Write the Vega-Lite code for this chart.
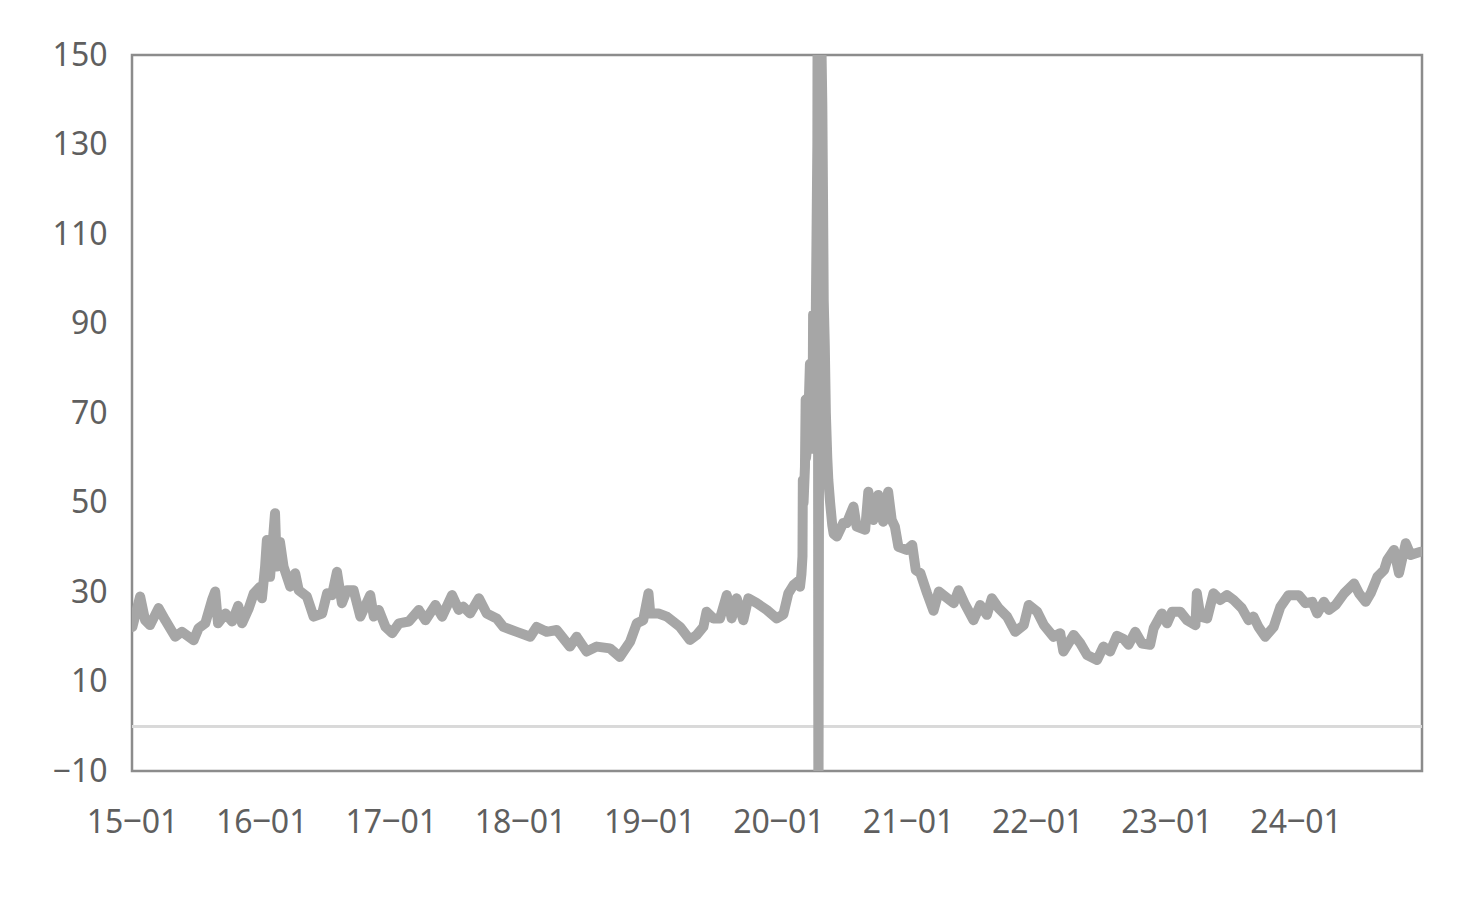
{
  "$schema": "https://vega.github.io/schema/vega-lite/v6.json",
  "width": 1290,
  "height": 716,
  "autosize": {"type": "none"},
  "padding": {"left": 132, "top": 55, "right": 60, "bottom": 127},
  "background": "white",
  "config": {
    "view": {"stroke": "#8c8c8c", "strokeWidth": 2.5},
    "axis": {"labelFont": "Noto Sans", "labelFontSize": 32, "labelColor": "#5f5f5f", "domain": false, "ticks": false, "tickSize": 0, "grid": false, "title": null}
  },
  "data": {"values": [
    {"d":"2015-01-02","v":22.2},{"d":"2015-01-24","v":29.0},{"d":"2015-02-07","v":23.7},{"d":"2015-02-21","v":22.6},{"d":"2015-03-17","v":26.4},{"d":"2015-04-05","v":23.7},{"d":"2015-05-03","v":20.0},{"d":"2015-05-22","v":21.1},{"d":"2015-06-24","v":19.2},{"d":"2015-07-08","v":21.9},{"d":"2015-07-27","v":23.0},{"d":"2015-08-15","v":28.2},{"d":"2015-08-24","v":30.1},{"d":"2015-09-01","v":23.0},{"d":"2015-09-22","v":25.2},{"d":"2015-10-11","v":23.4},{"d":"2015-10-28","v":26.9},{"d":"2015-11-08","v":23.0},{"d":"2015-11-27","v":26.4},{"d":"2015-12-11","v":29.7},{"d":"2015-12-29","v":31.2},
    {"d":"2016-01-03","v":28.6},{"d":"2016-01-12","v":35.7},{"d":"2016-01-17","v":41.6},{"d":"2016-01-26","v":33.4},{"d":"2016-02-09","v":47.6},{"d":"2016-02-14","v":35.7},{"d":"2016-02-23","v":41.2},{"d":"2016-03-04","v":35.7},{"d":"2016-03-23","v":31.2},{"d":"2016-04-06","v":34.2},{"d":"2016-04-16","v":30.4},{"d":"2016-05-09","v":29.0},{"d":"2016-05-28","v":24.5},{"d":"2016-06-21","v":25.2},{"d":"2016-07-05","v":29.7},{"d":"2016-07-19","v":29.3},{"d":"2016-08-02","v":34.5},{"d":"2016-08-16","v":27.5},{"d":"2016-08-30","v":30.4},{"d":"2016-09-18","v":30.4},{"d":"2016-10-07","v":24.5},{"d":"2016-11-04","v":29.3},{"d":"2016-11-14","v":24.5},{"d":"2016-11-28","v":26.0},{"d":"2016-12-17","v":22.2},
    {"d":"2017-01-05","v":20.8},{"d":"2017-01-24","v":23.0},{"d":"2017-02-21","v":23.4},{"d":"2017-03-21","v":26.0},{"d":"2017-04-09","v":23.7},{"d":"2017-05-07","v":27.1},{"d":"2017-05-26","v":24.5},{"d":"2017-06-23","v":29.3},{"d":"2017-07-12","v":26.0},{"d":"2017-07-25","v":26.7},{"d":"2017-08-13","v":25.2},{"d":"2017-09-07","v":28.6},{"d":"2017-09-29","v":25.2},{"d":"2017-10-27","v":24.1},{"d":"2017-11-15","v":22.2},{"d":"2017-12-23","v":21.1},
    {"d":"2018-01-30","v":20.0},{"d":"2018-02-17","v":22.2},{"d":"2018-03-17","v":21.1},{"d":"2018-04-15","v":21.5},{"d":"2018-05-22","v":17.8},{"d":"2018-06-10","v":20.0},{"d":"2018-07-08","v":16.7},{"d":"2018-08-06","v":17.8},{"d":"2018-09-12","v":17.4},{"d":"2018-10-10","v":15.5},{"d":"2018-11-08","v":18.9},{"d":"2018-11-27","v":23.0},{"d":"2018-12-15","v":23.7},{"d":"2018-12-30","v":29.7},
    {"d":"2019-01-04","v":25.2},{"d":"2019-01-27","v":25.2},{"d":"2019-02-20","v":24.5},{"d":"2019-03-29","v":22.2},{"d":"2019-04-26","v":19.3},{"d":"2019-05-15","v":20.4},{"d":"2019-06-03","v":22.2},{"d":"2019-06-12","v":25.6},{"d":"2019-07-01","v":24.1},{"d":"2019-07-20","v":24.1},{"d":"2019-08-08","v":29.3},{"d":"2019-08-22","v":24.1},{"d":"2019-09-05","v":28.6},{"d":"2019-09-24","v":23.7},{"d":"2019-10-08","v":28.6},{"d":"2019-11-01","v":27.5},{"d":"2019-11-29","v":26.0},{"d":"2019-12-27","v":24.1},
    {"d":"2020-01-15","v":25.0},{"d":"2020-01-29","v":29.7},{"d":"2020-02-13","v":31.6},{"d":"2020-02-27","v":32.5},{"d":"2020-03-02","v":31.2},{"d":"2020-03-06","v":34},{"d":"2020-03-09","v":38},{"d":"2020-03-10","v":55},{"d":"2020-03-12","v":50},{"d":"2020-03-16","v":58},{"d":"2020-03-18","v":73},{"d":"2020-03-19","v":60},{"d":"2020-03-23","v":63},{"d":"2020-03-26","v":70},{"d":"2020-03-30","v":81},{"d":"2020-03-31","v":65},{"d":"2020-04-03","v":68},{"d":"2020-04-06","v":62},{"d":"2020-04-08","v":92},{"d":"2020-04-09","v":72},{"d":"2020-04-14","v":78},{"d":"2020-04-16","v":95},{"d":"2020-04-20","v":130},{"d":"2020-04-21","v":175},{"d":"2020-04-23","v":-30},{"d":"2020-04-27","v":175},{"d":"2020-04-30","v":160},{"d":"2020-05-04","v":139},{"d":"2020-05-06","v":118},{"d":"2020-05-08","v":95},{"d":"2020-05-11","v":85},{"d":"2020-05-14","v":70},{"d":"2020-05-18","v":60},{"d":"2020-05-21","v":55},{"d":"2020-05-26","v":50},{"d":"2020-06-01","v":45},{"d":"2020-06-05","v":43},{"d":"2020-06-14","v":42.4},{"d":"2020-07-02","v":45.4},{"d":"2020-07-12","v":45.4},{"d":"2020-07-31","v":49.1},{"d":"2020-08-09","v":44.6},{"d":"2020-09-02","v":43.9},{"d":"2020-09-11","v":52.4},{"d":"2020-09-25","v":46.1},{"d":"2020-10-09","v":51.7},{"d":"2020-10-23","v":45.7},{"d":"2020-11-06","v":52.4},{"d":"2020-11-16","v":46.1},{"d":"2020-11-25","v":44.6},{"d":"2020-12-05","v":40.1},{"d":"2020-12-28","v":39.4},
    {"d":"2021-01-13","v":40.5},{"d":"2021-01-23","v":34.9},{"d":"2021-02-05","v":34.2},{"d":"2021-02-24","v":29.7},{"d":"2021-03-14","v":25.8},{"d":"2021-03-29","v":30.1},{"d":"2021-04-16","v":29.0},{"d":"2021-05-10","v":27.5},{"d":"2021-05-24","v":30.4},{"d":"2021-06-12","v":27.1},{"d":"2021-07-05","v":23.7},{"d":"2021-07-24","v":27.1},{"d":"2021-08-12","v":24.9},{"d":"2021-08-26","v":28.6},{"d":"2021-09-14","v":26.4},{"d":"2021-10-08","v":24.5},{"d":"2021-10-31","v":21.1},{"d":"2021-11-24","v":22.6},{"d":"2021-12-08","v":27.1},
    {"d":"2022-01-01","v":25.6},{"d":"2022-01-20","v":22.6},{"d":"2022-02-16","v":20.0},{"d":"2022-03-07","v":20.8},{"d":"2022-03-16","v":16.7},{"d":"2022-04-14","v":20.4},{"d":"2022-05-03","v":18.5},{"d":"2022-05-22","v":15.9},{"d":"2022-06-19","v":14.8},{"d":"2022-07-07","v":17.8},{"d":"2022-07-26","v":16.7},{"d":"2022-08-14","v":20.2},{"d":"2022-09-02","v":19.5},{"d":"2022-09-16","v":18.2},{"d":"2022-10-05","v":21.1},{"d":"2022-10-24","v":18.5},{"d":"2022-11-16","v":18.2},{"d":"2022-11-26","v":21.9},{"d":"2022-12-19","v":25.2},
    {"d":"2023-01-03","v":23.0},{"d":"2023-01-17","v":25.6},{"d":"2023-02-09","v":25.6},{"d":"2023-02-28","v":23.7},{"d":"2023-03-24","v":22.6},{"d":"2023-03-28","v":29.7},{"d":"2023-04-07","v":24.5},{"d":"2023-04-26","v":24.1},{"d":"2023-05-14","v":29.7},{"d":"2023-06-02","v":28.2},{"d":"2023-06-21","v":29.3},{"d":"2023-07-10","v":28.2},{"d":"2023-08-02","v":26.4},{"d":"2023-08-21","v":23.7},{"d":"2023-09-04","v":24.5},{"d":"2023-09-18","v":22.2},{"d":"2023-10-07","v":20.0},{"d":"2023-10-31","v":22.2},{"d":"2023-11-19","v":26.7},{"d":"2023-12-12","v":29.3},
    {"d":"2024-01-10","v":29.3},{"d":"2024-01-29","v":27.5},{"d":"2024-02-17","v":27.8},{"d":"2024-03-02","v":25.2},{"d":"2024-03-21","v":27.8},{"d":"2024-04-04","v":26.0},{"d":"2024-04-23","v":27.1},{"d":"2024-05-17","v":29.7},{"d":"2024-06-14","v":31.9},{"d":"2024-06-28","v":29.7},{"d":"2024-07-17","v":27.8},{"d":"2024-07-31","v":29.7},{"d":"2024-08-19","v":33.4},{"d":"2024-09-07","v":34.9},{"d":"2024-09-16","v":37.2},{"d":"2024-10-05","v":39.4},{"d":"2024-10-19","v":34.2},{"d":"2024-11-07","v":40.9},{"d":"2024-11-21","v":38.3},{"d":"2024-12-19","v":39.0}
  ]},
  "encoding": {
    "x": {
      "field": "d", "type": "temporal",
      "scale": {"type": "utc", "domain": [{"year": 2015, "month": 1, "date": 1, "utc": true}, {"year": 2024, "month": 12, "date": 23, "utc": true}], "nice": false},
      "axis": {"format": "%y‒%m", "tickCount": {"interval": "year", "step": 1}, "labelPadding": 36, "labelFlush": false, "labelOverlap": false}
    },
    "y": {
      "field": "v", "type": "quantitative",
      "scale": {"domain": [-10, 150], "nice": false, "zero": false},
      "axis": {"values": [-10, 10, 30, 50, 70, 90, 110, 130, 150], "labelPadding": 25}
    }
  },
  "layer": [
    {
      "mark": {"type": "rule", "color": "#d9d9d9", "strokeWidth": 2.5},
      "encoding": {"x": {"value": 0}, "x2": {"value": 1290}, "y": {"datum": 0}}
    },
    {
      "mark": {"type": "line", "color": "#a6a6a6", "strokeWidth": 10, "strokeCap": "round", "strokeJoin": "round", "clip": true}
    }
  ]
}
